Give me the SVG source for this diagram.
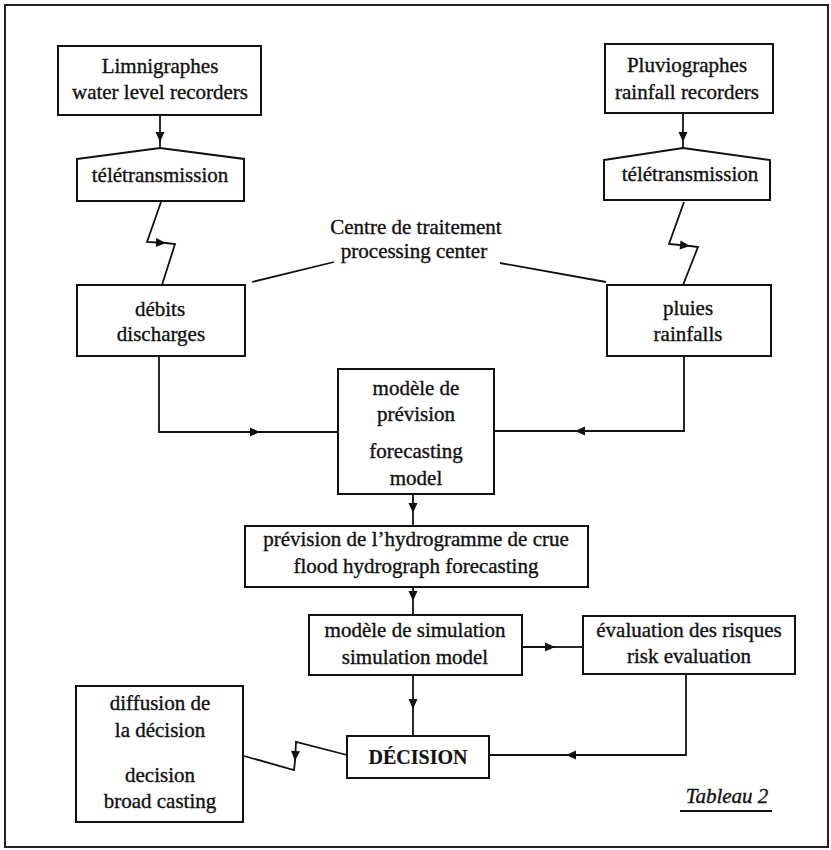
<svg xmlns="http://www.w3.org/2000/svg" width="831" height="850" viewBox="0 0 831 850">
<style>
.box{fill:#fff;stroke:#111;stroke-width:2}
.ln{fill:none;stroke:#111;stroke-width:1.8}
text{font-family:"Liberation Serif","Times New Roman",serif;font-size:21px;fill:#111;stroke:#111;stroke-width:0.35;text-anchor:middle}
.b{font-weight:bold;font-size:20px;stroke-width:0.2}
.it{font-style:italic}
</style>
<defs>
<marker id="ah" viewBox="0 0 10 10" refX="10" refY="5" markerWidth="11" markerHeight="10" markerUnits="userSpaceOnUse" orient="auto">
<path d="M0,0.5 L10,5 L0,9.5 z" fill="#111"/>
</marker>
</defs>
<rect x="5" y="5" width="823" height="842" fill="none" stroke="#222" stroke-width="2"/>
<g id="connectors">
<path class="ln" d="M160,115 L160,142" marker-end="url(#ah)"/>
<path class="ln" d="M160,142 L160,148"/>
<path class="ln" d="M683,113 L683,142" marker-end="url(#ah)"/>
<path class="ln" d="M683,142 L683,148"/>
<path class="ln" d="M161,202 L147,242 L166,243" marker-end="url(#ah)"/>
<path class="ln" d="M166,243 L175,244 L162,285"/>
<path class="ln" d="M684,202 L669,244 L690,246" marker-end="url(#ah)"/>
<path class="ln" d="M690,246 L698,247 L683,285"/>
<path class="ln" d="M252,282 L334,262"/>
<path class="ln" d="M500,263 L606,282"/>
<path class="ln" d="M159,356 L159,432 L260,432" marker-end="url(#ah)"/>
<path class="ln" d="M260,432 L338,432"/>
<path class="ln" d="M684,356 L684,431 L575,431" marker-end="url(#ah)"/>
<path class="ln" d="M575,431 L494,431"/>
<path class="ln" d="M413,494 L413,513" marker-end="url(#ah)"/>
<path class="ln" d="M413,513 L413,526"/>
<path class="ln" d="M413,587 L413,601" marker-end="url(#ah)"/>
<path class="ln" d="M413,601 L413,615"/>
<path class="ln" d="M522,647 L555,647" marker-end="url(#ah)"/>
<path class="ln" d="M555,647 L583,647"/>
<path class="ln" d="M413,675 L413,709" marker-end="url(#ah)"/>
<path class="ln" d="M413,709 L413,736"/>
<path class="ln" d="M686,674 L686,755 L566,755" marker-end="url(#ah)"/>
<path class="ln" d="M566,755 L489,755"/>
<path class="ln" d="M347,755 L296,742 L295,761" marker-end="url(#ah)"/>
<path class="ln" d="M295,761 L294,770 L244,756"/>
</g>
<g id="limnigraphes">
<rect class="box" x="58" y="46" width="203" height="69"/>
<text x="160" y="73">Limnigraphes</text>
<text x="160" y="99">water level recorders</text>
</g>
<g id="pluviographes">
<rect class="box" x="605" y="44" width="168" height="69"/>
<text x="687" y="72">Pluviographes</text>
<text x="687" y="99">rainfall recorders</text>
</g>
<g id="teletransmission-left">
<polygon class="box" points="77,159 160,148 244,159 244,201 77,201"/>
<text x="160" y="182">télétransmission</text>
</g>
<g id="teletransmission-right">
<polygon class="box" points="604,160 683,148 770,160 770,200 604,200"/>
<text x="690" y="181">télétransmission</text>
</g>
<g id="centre">
<text x="416" y="234">Centre de traitement</text>
<text x="414" y="258">processing center</text>
</g>
<g id="debits">
<rect class="box" x="77" y="285" width="168" height="71"/>
<text x="160" y="316">débits</text>
<text x="161" y="341">discharges</text>
</g>
<g id="pluies">
<rect class="box" x="607" y="285" width="164" height="71"/>
<text x="688" y="315">pluies</text>
<text x="688" y="341">rainfalls</text>
</g>
<g id="modele-prevision">
<rect class="box" x="338" y="369" width="156" height="125"/>
<text x="416" y="395">modèle de</text>
<text x="416" y="421">prévision</text>
<text x="416" y="458">forecasting</text>
<text x="416" y="485">model</text>
</g>
<g id="hydrogramme">
<rect class="box" x="245" y="526" width="343" height="61"/>
<text x="416" y="546">prévision de l’hydrogramme de crue</text>
<text x="416" y="573">flood hydrograph forecasting</text>
</g>
<g id="simulation">
<rect class="box" x="309" y="615" width="213" height="60"/>
<text x="415" y="637">modèle de simulation</text>
<text x="415" y="664">simulation model</text>
</g>
<g id="risques">
<rect class="box" x="583" y="616" width="212" height="58"/>
<text x="689" y="637">évaluation des risques</text>
<text x="689" y="663">risk evaluation</text>
</g>
<g id="decision">
<rect class="box" x="347" y="736" width="142" height="42"/>
<text class="b" x="418" y="764">DÉCISION</text>
</g>
<g id="diffusion">
<rect class="box" x="76" y="686" width="167" height="136"/>
<text x="160" y="710">diffusion de</text>
<text x="160" y="737">la décision</text>
<text x="160" y="782">decision</text>
<text x="160" y="808">broad casting</text>
</g>
<g id="tableau">
<text class="it" x="727" y="803">Tableau 2</text>
<line x1="680" y1="811" x2="772" y2="811" stroke="#111" stroke-width="2"/>
</g>
</svg>
